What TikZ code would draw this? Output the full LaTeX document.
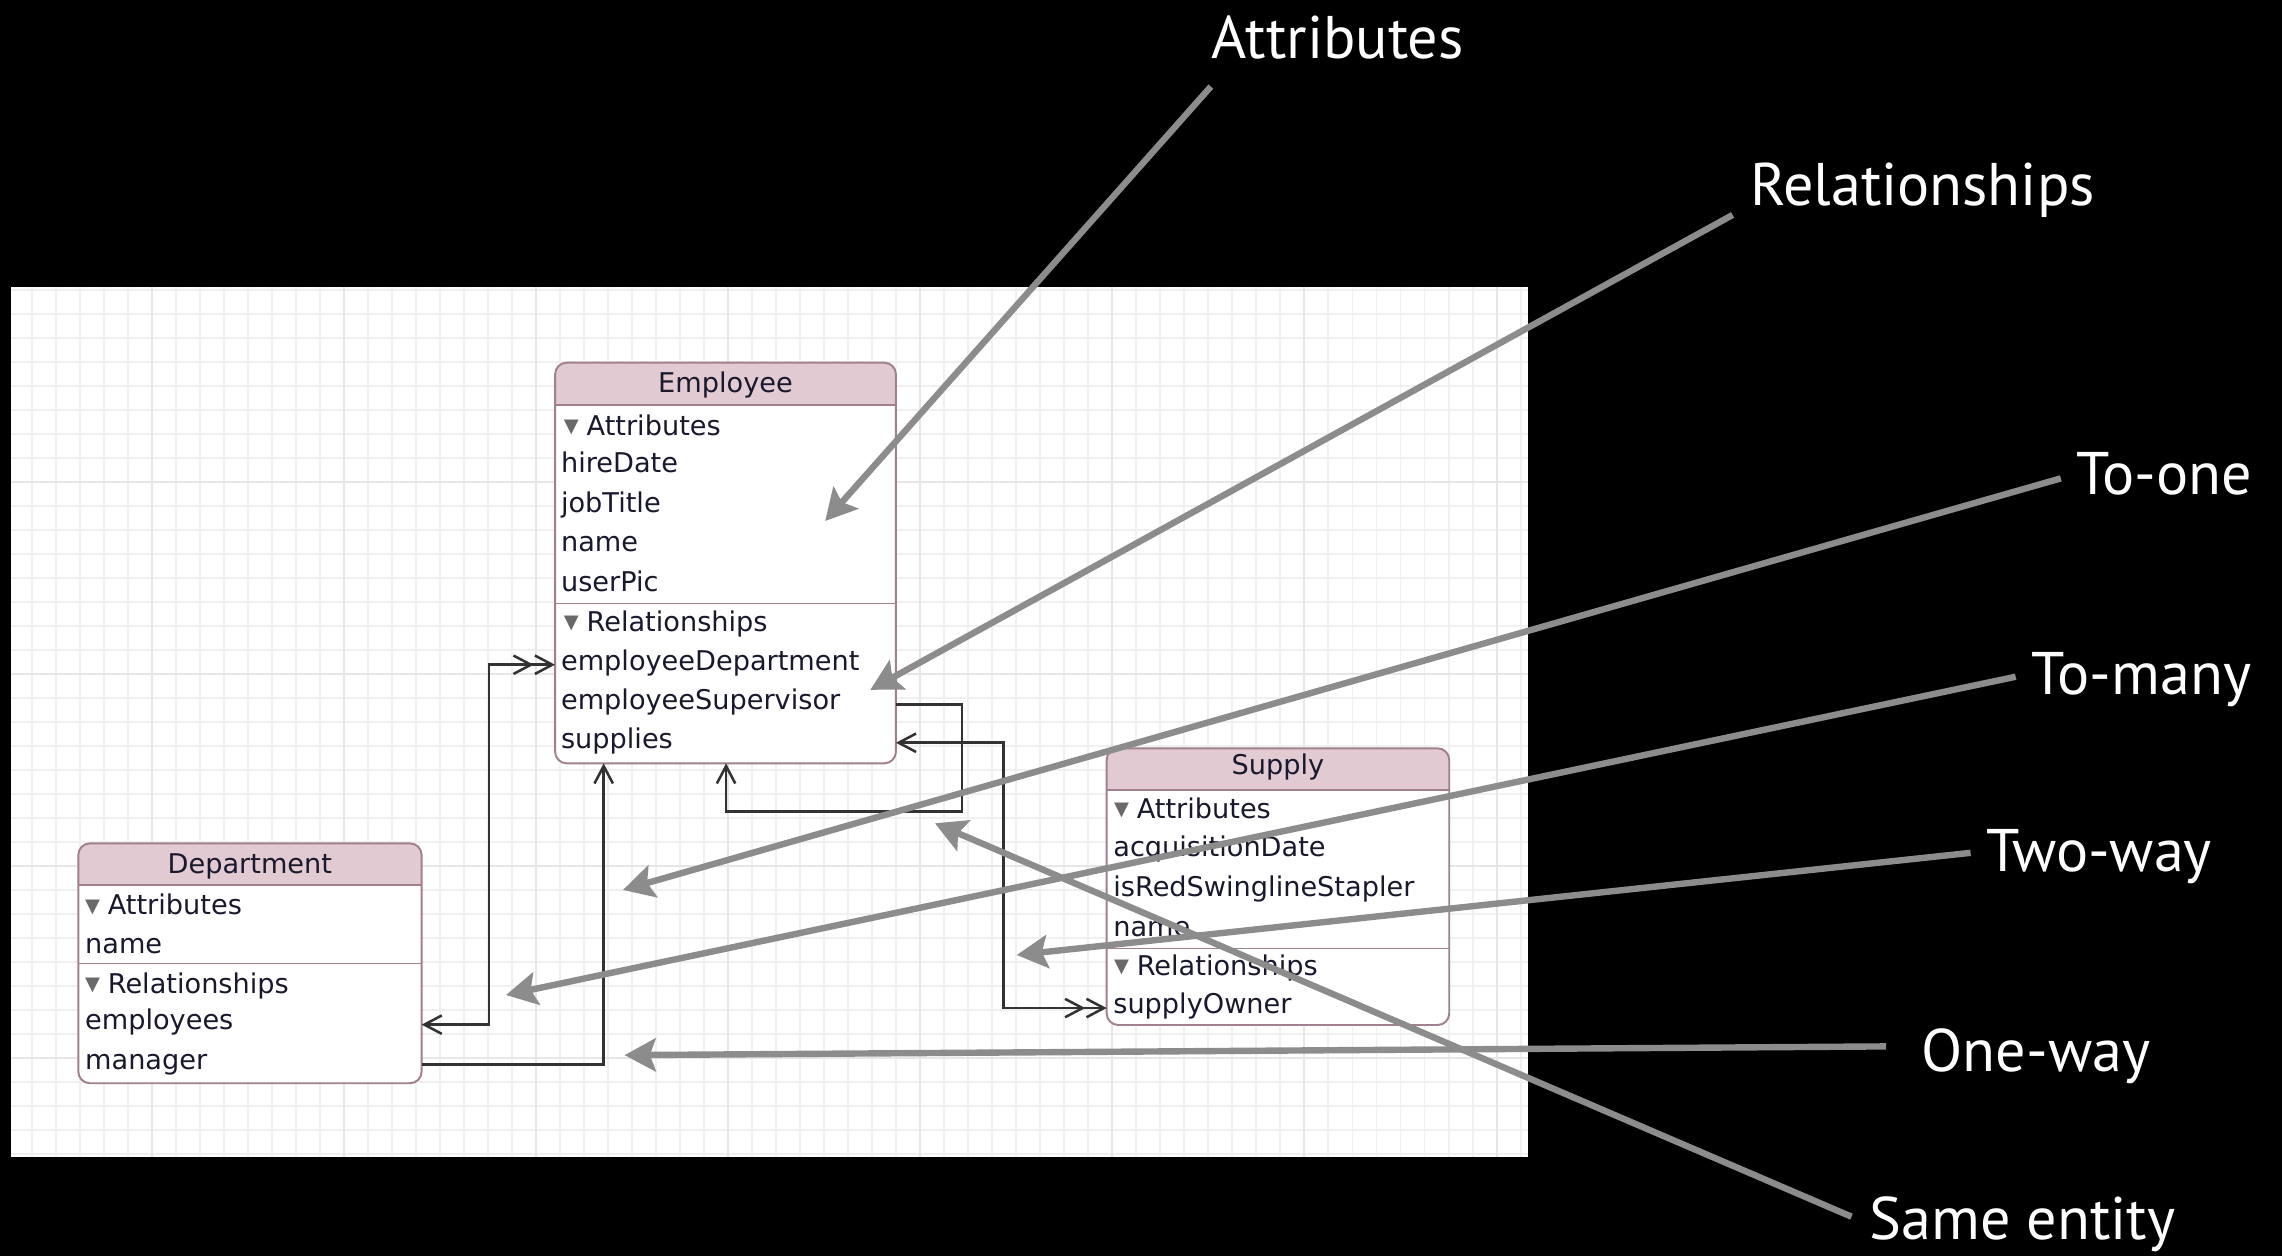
\documentclass[tikz,border=0pt]{standalone}
\usepackage{fontspec}
\setmainfont{DejaVu Sans}
\newfontfamily\calloutfont{PT Sans}
\usetikzlibrary{arrows.meta,calc}

\definecolor{entityhead}{RGB}{226,202,210}
\definecolor{entityedge}{RGB}{160,128,142}
\definecolor{entitytext}{RGB}{25,25,45}
\definecolor{relink}{RGB}{50,50,50}
\definecolor{calloutgray}{RGB}{140,140,140}
\definecolor{gridminor}{RGB}{240,240,240}
\definecolor{gridmajorc}{RGB}{230,230,230}
\definecolor{discloseg}{RGB}{105,105,105}

\tikzset{every picture/.style={line width=0.75pt},
  field/.style={anchor=base west, inner sep=0pt, text=entitytext, font=\fontsize{14}{16}\selectfont},
  entitytitle/.style={anchor=base, inner sep=0pt, text=entitytext, font=\fontsize{14}{16}\selectfont},
  entitybox/.style={draw=entityedge, line width=1pt, rounded corners=6pt},
  relline/.style={draw=relink, line width=1.3pt},
  relone/.style={relline, -{Straight Barb[length=9pt,width=9.5pt]}},
  relboth/.style={relline, {Straight Barb[length=9pt,width=9.5pt]}-{Straight Barb[length=9pt,width=9.5pt] Straight Barb[length=9pt,width=9.5pt]}},
  calloutarrow/.style={draw=calloutgray, line width=3.3pt, -{Stealth[length=16pt,width=17pt,inset=3pt]}},
  calloutlabel/.style={anchor=base west, inner sep=0pt, text=white, font=\calloutfont\fontsize{31}{36}\selectfont},
  gridline/.style={draw=gridminor, line width=1pt},
  gridmajor/.style={draw=gridmajorc, line width=1pt}
}
\newcommand{\disclose}{\raisebox{0.2ex}{\textcolor{discloseg}{\fontsize{10}{10}\selectfont ▼}}\hspace{4pt}}

\begin{document}
\begin{tikzpicture}[x=0.75pt,y=0.75pt,yscale=-1,xscale=1]
\useasboundingbox (0,0) rectangle (1568,863);

%Shape: Rectangle [slide]
\fill[black] (0,0) rectangle (1568,863);
%Shape: Rectangle [canvas]
\fill[white] (7.9,197) rectangle (1050,795);
%Grid
\foreach \i in {0,...,62} \draw[gridline] ({21.8+16.5*\i},197) -- ++(0,598);
\foreach \j in {0,...,36} \draw[gridline] (7.9,{199+16.5*\j}) -- (1050,{199+16.5*\j});
\foreach \i in {5,13,...,61} \draw[gridmajor] ({21.8+16.5*\i},197) -- ++(0,598);
\foreach \j in {8,16,24,32} \draw[gridmajor] (7.9,{199+16.5*\j}) -- (1050,{199+16.5*\j});

\coordinate (emp-nw) at (381.4,249.2);
\coordinate (emp-se) at (615.6,524.5);
\coordinate (dep-nw) at (53.8,579.5);
\coordinate (dep-se) at (289.7,744.3);
\coordinate (sup-nw) at (760.4,514.2);
\coordinate (sup-se) at (995.8,704.3);
\coordinate (emp-in-mgr) at (414.8,524.5);
\coordinate (emp-in-self) at (498.9,524.5);

%Shape: Entity [Employee]
\fill[white, rounded corners=6pt] (emp-nw) rectangle (emp-se);
\begin{scope}
\clip[rounded corners=6pt] (emp-nw) rectangle (emp-se);
\fill[entityhead] (emp-nw) rectangle (615.6,278.3);
\end{scope}
\draw[entityedge] (381.4,278.3) -- (615.6,278.3);
\draw[entityedge] (381.4,414.5) -- (615.6,414.5);
\draw[entitybox] (emp-nw) rectangle (emp-se);

%Shape: Entity [Department]
\fill[white, rounded corners=6pt] (dep-nw) rectangle (dep-se);
\begin{scope}
\clip[rounded corners=6pt] (dep-nw) rectangle (dep-se);
\fill[entityhead] (dep-nw) rectangle (289.7,608);
\end{scope}
\draw[entityedge] (53.8,608) -- (289.7,608);
\draw[entityedge] (53.8,662) -- (289.7,662);
\draw[entitybox] (dep-nw) rectangle (dep-se);

%Shape: Entity [Supply]
\fill[white, rounded corners=6pt] (sup-nw) rectangle (sup-se);
\begin{scope}
\clip[rounded corners=6pt] (sup-nw) rectangle (sup-se);
\fill[entityhead] (sup-nw) rectangle (995.8,542.8);
\end{scope}
\draw[entityedge] (760.4,542.8) -- (995.8,542.8);
\draw[entityedge] (760.4,651.6) -- (995.8,651.6);
\draw[entitybox] (sup-nw) rectangle (sup-se);

% Text Node
\node[entitytitle] (emp-title) at (498.5,270) {Employee};
\node[field] (emp-attr) at (387,299) {\disclose Attributes};
\node[field] (emp-hire) at (385,325) {hireDate};
\node[field] (emp-job) at (385,352) {jobTitle};
\node[field] (emp-name) at (385,379) {name};
\node[field] (emp-pic) at (385,406.5) {userPic};
\node[field] (emp-rels) at (387,434) {\disclose Relationships};
\node[field] (emp-dept) at (385,460.4) {employeeDepartment};
\node[field] (emp-super) at (385,487.8) {employeeSupervisor};
\node[field] (emp-supplies) at (385,514) {supplies};

% Text Node
\node[entitytitle] (dep-title) at (171.7,600) {Department};
\node[field] (dep-attr) at (58,628.7) {\disclose Attributes};
\node[field] (dep-name) at (58,655) {name};
\node[field] (dep-rels) at (58,682.5) {\disclose Relationships};
\node[field] (dep-employees) at (58,707.7) {employees};
\node[field] (dep-manager) at (58,735.2) {manager};

% Text Node
\node[entitytitle] (sup-title) at (878,532.5) {Supply};
\node[field] (sup-attr) at (765,562.3) {\disclose Attributes};
\node[field] (sup-acq) at (764.5,588.6) {acquisitionDate};
\node[field] (sup-stapler) at (764.5,616) {isRedSwinglineStapler};
\node[field] (sup-name) at (764.5,643.6) {name};
\node[field] (sup-rels) at (765,670) {\disclose Relationships};
\node[field] (sup-owner) at (764.5,696.3) {supplyOwner};

%Relationship lines
\draw[relboth] (dep-se |- dep-employees.mid) -- ++(46.3,0) |- (emp-nw |- emp-dept.mid);
\draw[relone] (dep-se |- dep-manager.mid) -| (emp-in-mgr);
\draw[relone] (emp-se |- emp-super.mid) -- ++(45.4,0) -- ++(0,73.3) -| (emp-in-self);
\draw[relboth] (emp-se |- emp-supplies.mid) -- ++(73.8,0) |- (sup-nw |- sup-owner.mid);

% Text Node
\node[calloutlabel] (lbl-attr) at (832,40) {Attributes};
\node[calloutlabel] (lbl-rel) at (1202,141) {Relationships};
\node[calloutlabel] (lbl-toone) at (1426.5,340) {To-one};
\node[calloutlabel] (lbl-tomany) at (1395.6,477.5) {To-many};
\node[calloutlabel] (lbl-twoway) at (1364.6,599) {Two-way};
\node[calloutlabel] (lbl-oneway) at (1320,736.4) {One-way};
\node[calloutlabel] (lbl-same) at (1284,852) {Same entity};

\coordinate (attr-tip) at (567,358);
\coordinate (rel-tip) at (598,474);
\coordinate (toone-tip) at (428,611.5);
\coordinate (tomany-tip) at (347.7,683.7);
\coordinate (twoway-tip) at (698.6,656.2);
\coordinate (oneway-tip) at (429.2,725);
\coordinate (same-tip) at (642.4,565.7);

%Callout arrows
\draw[calloutarrow] ($(lbl-attr.base west)+(0,19.5)$) -- (attr-tip);
\draw[calloutarrow] ($(lbl-rel.base west)+(-11.5,6.7)$) -- (rel-tip);
\draw[calloutarrow] ($(lbl-toone.base west)+(-10.5,-11.3)$) -- (toone-tip);
\draw[calloutarrow] ($(lbl-tomany.base west)+(-10.6,-12.5)$) -- (tomany-tip);
\draw[calloutarrow] ($(lbl-twoway.base west)+(-10.6,-13)$) -- (twoway-tip);
\draw[calloutarrow] ($(lbl-oneway.base west)+(-24,-17.4)$) -- (oneway-tip);
\draw[calloutarrow] ($(lbl-same.base west)+(-11.8,-16)$) -- (same-tip);

\end{tikzpicture}
\end{document}
